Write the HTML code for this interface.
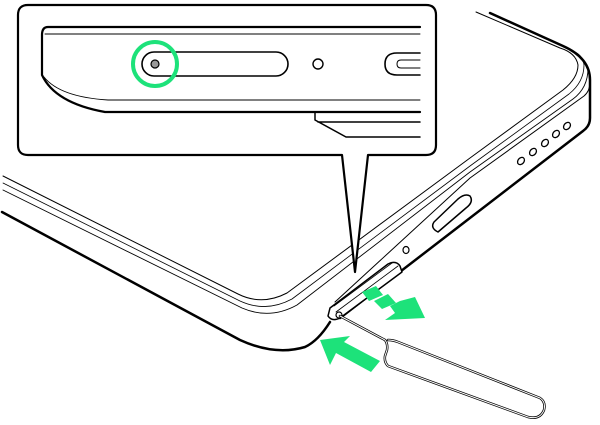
<!DOCTYPE html>
<html><head><meta charset="utf-8"><style>html,body{margin:0;padding:0;background:#fff}svg{display:block}</style></head>
<body>
<svg width="600" height="425" viewBox="0 0 600 425" xmlns="http://www.w3.org/2000/svg" fill="none" stroke="#000" stroke-linejoin="round" stroke-linecap="round">
<!-- phone outer body -->
<path d="M490,13 L563,46 Q590,58 590,80 L590,118 Q590,126 583,131 L340,318" stroke-width="2.5"/>
<path d="M2,212 L240,340 Q275,356 305,347 Q318,341 330,322" stroke-width="2.5"/>
<!-- screen/bezel lines -->
<path d="M3,176 L238,294 Q262,306 287,293 L470,158 L563,90 Q578,78 578,65 Q576,53 560,48 L476,12" stroke-width="1"/>
<path d="M3,183 L240,301 Q266,313 292,299 L470,166 L569,94 Q584,82 584,65 Q583,56 575,52" stroke-width="0.8"/>
<path d="M3,190 L242,308 Q270,320 297,305 L470,172 L573,99 Q588,88 588,68" stroke-width="0.9"/>
<path d="M335,302 L470,178 L584,96 Q590,91 590,82" stroke-width="1"/>
<!-- ports -->
<g stroke-width="1.3">
<ellipse cx="521" cy="161" rx="3" ry="4" transform="rotate(40 521 161)"/>
<ellipse cx="533" cy="152" rx="3" ry="4" transform="rotate(40 533 152)"/>
<ellipse cx="545" cy="143" rx="3" ry="4" transform="rotate(40 545 143)"/>
<ellipse cx="556" cy="134" rx="3" ry="4" transform="rotate(40 556 134)"/>
<ellipse cx="567" cy="126" rx="3" ry="4" transform="rotate(40 567 126)"/>
</g>
<path d="M438,232 L466,208 Q474,202 470,196 Q465,193 458,199 L434,222 Q430,228 438,232 Z" stroke-width="1.5"/>
<ellipse cx="406" cy="250" rx="3" ry="3.5" stroke-width="1.2"/>
<!-- SIM tray -->
<path d="M330,308 L388,264 Q396,260 400,266 L402,272 L340,318 Q332,322 328,316 Z" stroke-width="1.5" fill="#fff"/>
<path d="M334,306 L392,263 M336,312 L398,266" stroke-width="0.8"/>
<circle cx="339" cy="315" r="3" stroke-width="1.2"/>
<!-- pin -->
<path d="M340,316 L385,340 Q388,344 387,350 L385,356 Q384,362 388,366 L528,417 Q540,420 544,410 Q546,402 540,398 L398,342 Q393,340 388,340" stroke-width="2.5"/>
<path d="M340,316 L385,340 Q388,344 387,350 L385,356 Q384,362 388,366 L528,417 Q540,420 544,410 Q546,402 540,398 L398,342 Q393,340 388,340" stroke-width="1" stroke="#fff"/>
<!-- green arrows -->
<g fill="#1de27a" stroke="none">
<polygon points="362,292 376,286 383,295 369,301"/>
<polygon points="374,301 388,294 396,303 382,309"/>
<polygon points="390,306 400,301 415,297 425,318 385,320 395,313"/>
<polygon points="320,340 350,336 344,342 380,361 371,372 336,353 330,365"/>
</g>
<!-- callout -->
<path d="M28,5 L426,5 Q436,5 436,15 L436,145 Q436,155 426,155 L368,155 L355,272 L342,155 L28,155 Q18,155 18,145 L18,15 Q18,5 28,5 Z" fill="#fff" stroke-width="2.2"/>
<path d="M420,27 L48,27 Q42,27 42,35 L42,75 Q55,103 105,112 L420,112" stroke-width="2.2"/>
<path d="M45,34 L420,34" stroke-width="0.9"/>
<path d="M44,77 Q60,97 108,100 L420,100" stroke-width="0.9"/>
<path d="M315,112 L315,120 L346,137 L420,137 M318,122 L420,122" stroke-width="1.5"/>
<rect x="142" y="52" width="146" height="24" rx="12" stroke-width="1.6"/>
<circle cx="155" cy="64" r="4" fill="#999" stroke-width="1.2"/>
<circle cx="318" cy="64" r="5" stroke-width="1.4"/>
<path d="M420,53 L397,53 Q385,53 385,64 Q385,75 397,75 L420,75" stroke-width="1.6"/>
<path d="M420,60 L401,60 Q397,60 397,64 Q397,68 401,68 L420,68" stroke-width="1"/>
<circle cx="155" cy="64" r="22" stroke="#1de27a" stroke-width="4"/>
</svg>
</body></html>
